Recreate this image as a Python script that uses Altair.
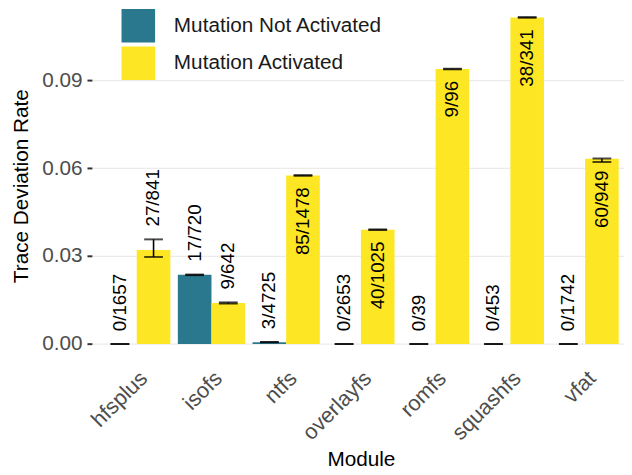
import altair as alt
import pandas as pd

modules = ["hfsplus", "isofs", "ntfs", "overlayfs", "romfs", "squashfs", "vfat"]
groups = ["Mutation Not Activated", "Mutation Activated"]

na_count = [0, 17, 3, 0, 0, 0, 0]
na_total = [1657, 720, 4725, 2653, 39, 453, 1742]
na_rate = [0.0, 0.0236, 0.0006, 0.0, 0.0, 0.0, 0.0]
na_lo = [0.0, 0.0235, 0.0006, 0.0, 0.0, 0.0, 0.0]
na_hi = [0.0, 0.0237, 0.0007, 0.0, 0.0, 0.0, 0.0]

a_count = [27, 9, 85, 40, 9, 38, 60]
a_total = [841, 642, 1478, 1025, 96, 341, 949]
a_rate = [0.0321, 0.0140, 0.0575, 0.0390, 0.0938, 0.1114, 0.0632]
a_lo = [0.0297, 0.0138, 0.0574, 0.0389, 0.0937, 0.1113, 0.0621]
a_hi = [0.0357, 0.0142, 0.0576, 0.0391, 0.0939, 0.1115, 0.0633]

rows = []
for i, m in enumerate(modules):
    rows.append(dict(module=m, group=groups[0], rate=na_rate[i], lo=na_lo[i], hi=na_hi[i],
                     label=f"{na_count[i]}/{na_total[i]}"))
    rows.append(dict(module=m, group=groups[1], rate=a_rate[i], lo=a_lo[i], hi=a_hi[i],
                     label=f"{a_count[i]}/{a_total[i]}"))
df = pd.DataFrame(rows)
df["inside"] = df["rate"] > 0.035

FONT = "Liberation Sans"
YT = "Trace Deviation Rate"

x = alt.X("module:N", sort=modules, title="Module",
          scale=alt.Scale(paddingInner=0.1, paddingOuter=0.15, range=[0, 545]))
xo = alt.XOffset("group:N", sort=groups,
                 scale=alt.Scale(domain=groups, paddingInner=0, paddingOuter=0))
yscale = alt.Scale(domain=[-0.0056, 0.1136], nice=False, zero=False)

base = alt.Chart(df)

bars = base.mark_bar().encode(
    x=x, xOffset=xo,
    y=alt.Y("rate:Q", scale=yscale, title=YT,
            axis=alt.Axis(values=[0, 0.03, 0.06, 0.09], format=".2f")),
    color=alt.Color("group:N", sort=groups,
                    scale=alt.Scale(domain=groups, range=["#2a788e", "#fde725"]),
                    legend=alt.Legend(title=None, orient="none", legendX=30, legendY=-2,
                                      symbolType="square", symbolSize=1156,
                                      symbolStrokeWidth=0, symbolOpacity=1,
                                      labelFontSize=21, labelFont=FONT, labelColor="#1a1a1a",
                                      labelOffset=19, labelLimit=0, rowPadding=4, padding=0)),
)

rule = base.mark_rule(color="black", strokeWidth=1.6).encode(
    x=x, xOffset=xo,
    y=alt.Y("lo:Q", scale=yscale, title=YT), y2="hi:Q")

cap_lo = base.mark_tick(color="black", size=19, thickness=2, orient="horizontal").encode(
    x=x, xOffset=xo, y=alt.Y("lo:Q", scale=yscale, title=YT))
cap_hi = base.mark_tick(color="black", size=19, thickness=2, orient="horizontal").encode(
    x=x, xOffset=xo, y=alt.Y("hi:Q", scale=yscale, title=YT))

txt_out = base.transform_filter("!datum.inside").mark_text(
    angle=270, align="left", baseline="middle", dx=13, fontSize=19, font=FONT, color="black"
).encode(x=x, xOffset=xo, y=alt.Y("hi:Q", scale=yscale, title=YT), text="label:N")

txt_in = base.transform_filter("datum.inside").mark_text(
    angle=270, align="right", baseline="middle", dx=-12, fontSize=19, font=FONT, color="black"
).encode(x=x, xOffset=xo, y=alt.Y("rate:Q", scale=yscale, title=YT), text="label:N")

chart = alt.layer(bars, rule, cap_lo, cap_hi, txt_out, txt_in).properties(
    width=539, height=354,
    autosize=alt.AutoSizeParams(type="none"),
    padding={"left": 85, "top": 0, "right": 0, "bottom": 112},
).configure_view(stroke=None).configure_axisY(
    domain=False, grid=True, gridColor="#ebebeb", gridWidth=1.2,
    ticks=True, tickColor="#333333", tickSize=5, tickWidth=2,
    labelFont=FONT, labelFontSize=21, labelColor="#4d4d4d", labelPadding=5,
    titleFont=FONT, titleFontSize=21, titleFontWeight="normal", titleColor="black",
    titlePadding=10,
).configure_axisX(
    domain=False, grid=False, ticks=False,
    labelFont=FONT, labelFontSize=22, labelColor="#4d4d4d", labelAngle=315,
    labelAlign="right", labelBaseline="top", labelPadding=7,
    titleFont=FONT, titleFontSize=21, titleFontWeight="normal", titleColor="black",
    titlePadding=5,
)

chart.save("out.html", embed_options={"renderer": "svg", "actions": False})
